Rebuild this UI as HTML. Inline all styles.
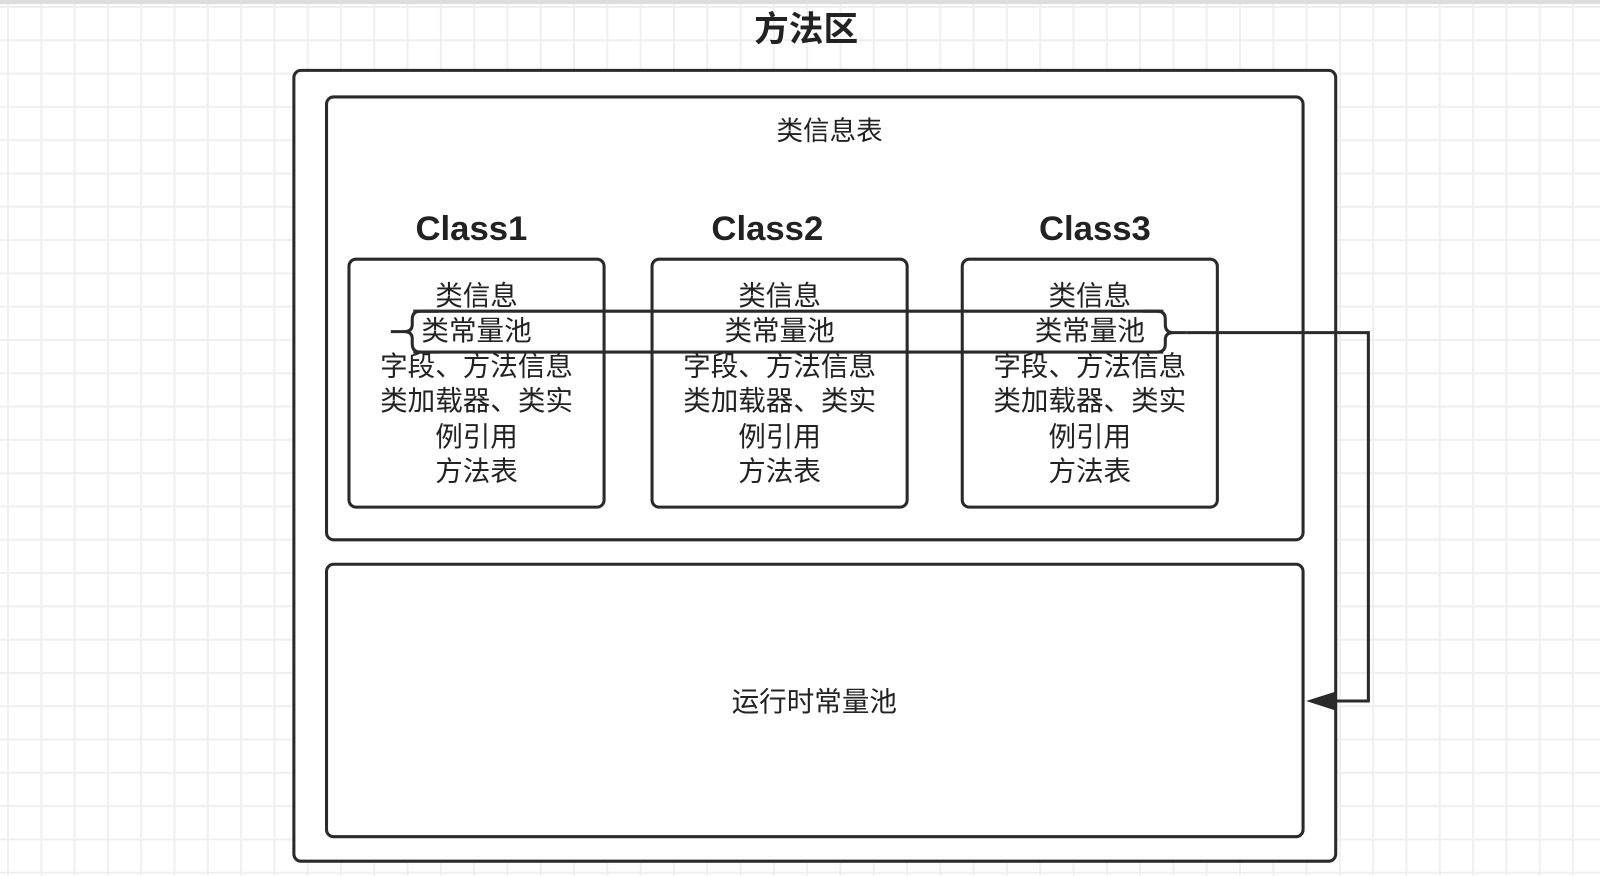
<!DOCTYPE html>
<html><head><meta charset="utf-8"><style>
html,body{margin:0;padding:0;}
body{width:1600px;height:876px;overflow:hidden;background-color:#fff;
background-image:linear-gradient(to right,#efefef 2px,transparent 2px),linear-gradient(to bottom,#efefef 2px,transparent 2px);
background-size:33.3px 33.3px;background-position:7px 6px;}
svg{position:absolute;left:0;top:0;}
text{font-family:"Liberation Sans","Noto Sans CJK SC",sans-serif;fill:#222;}
</style></head><body>
<svg width="1600" height="876" viewBox="0 0 1568 858.5" preserveAspectRatio="none">
<rect x="0" y="0" width="1568" height="4" fill="#ddd"/>
<text x="790" y="40" font-size="34" font-weight="bold" text-anchor="middle">方法区</text>
<rect x="288" y="69" width="1021" height="775" rx="7" fill="#fff" stroke="#2a2a2a" stroke-width="3"/>
<rect x="320" y="95" width="957" height="434" rx="7" fill="#fff" stroke="#2a2a2a" stroke-width="3"/>
<text x="813" y="137" font-size="26" text-anchor="middle">类信息表</text>
<g font-size="34" font-weight="bold" text-anchor="middle">
<text x="462" y="235">Class1</text><text x="752" y="235">Class2</text><text x="1073" y="235">Class3</text>
</g>
<g fill="#fff" stroke="#2a2a2a" stroke-width="3">
<rect x="342" y="254" width="250" height="243" rx="7"/>
<rect x="639" y="254" width="250" height="243" rx="7"/>
<rect x="943" y="254" width="250" height="243" rx="7"/>
</g>
<g font-size="27" text-anchor="middle">
<g>
<text x="467" y="299">类信息</text><text x="467" y="333">类常量池</text><text x="467" y="368">字段、方法信息</text>
<text x="467" y="402">类加载器、类实</text><text x="467" y="437">例引用</text><text x="467" y="471">方法表</text>
</g>
<g transform="translate(297,0)">
<text x="467" y="299">类信息</text><text x="467" y="333">类常量池</text><text x="467" y="368">字段、方法信息</text>
<text x="467" y="402">类加载器、类实</text><text x="467" y="437">例引用</text><text x="467" y="471">方法表</text>
</g>
<g transform="translate(601,0)">
<text x="467" y="299">类信息</text><text x="467" y="333">类常量池</text><text x="467" y="368">字段、方法信息</text>
<text x="467" y="402">类加载器、类实</text><text x="467" y="437">例引用</text><text x="467" y="471">方法表</text>
</g>
</g>
<g fill="none" stroke="#2a2a2a" stroke-width="3">
<line x1="405" y1="305" x2="1140" y2="305"/>
<line x1="405" y1="345" x2="1140" y2="345"/>
<path d="M430 305 H412 Q404 305 404 313 V318 Q404 325 396 325 H383 M396 325 Q404 325 404 332 V337 Q404 345 412 345 H430"/>
<path d="M1120 305 H1134 Q1142 305 1142 313 V318 Q1142 326 1150 326 H1163 M1150 326 Q1142 326 1142 333 V337 Q1142 345 1134 345 H1120"/>
<polyline points="1163,326 1341,326 1341,687 1300,687"/>
</g>
<polygon points="1280,687 1308,678 1308,696" fill="#2a2a2a"/>
<rect x="320" y="553" width="957" height="267" rx="7" fill="#fff" stroke="#2a2a2a" stroke-width="3"/>
<text x="798" y="697" font-size="27" text-anchor="middle">运行时常量池</text>
</svg>
</body></html>
